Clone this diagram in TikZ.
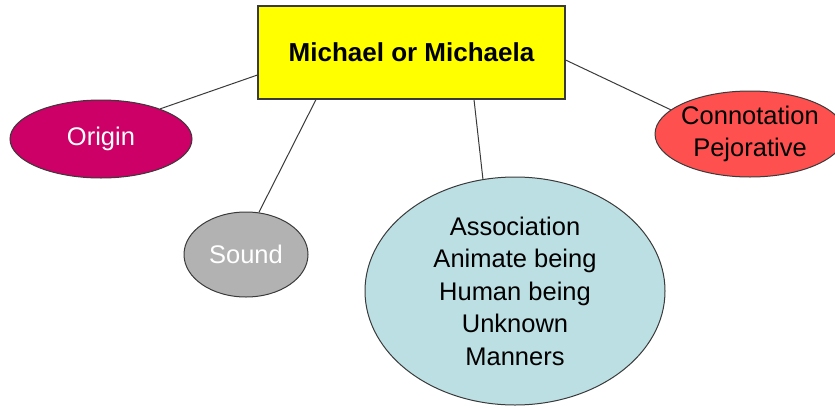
\documentclass[tikz,border=0pt]{standalone}
\usepackage{fontspec}
\setmainfont{Liberation Sans}
\usetikzlibrary{shapes.geometric}
\definecolor{boxyellow}{HTML}{FFFF00}
\definecolor{originpink}{HTML}{CC0066}
\definecolor{soundgray}{HTML}{B2B2B2}
\definecolor{assocblue}{HTML}{BBDFE3}
\definecolor{connred}{HTML}{FF5050}
\definecolor{edgegray}{HTML}{3A3A3A}
\begin{document}
\begin{tikzpicture}[x=1pt,y=-1pt,
  topic/.style={draw=edgegray, line width=1.1pt, fill=boxyellow, rectangle,
    minimum width=307pt, minimum height=93pt, inner sep=0pt,
    font=\fontsize{26}{30}\selectfont\bfseries},
  idea/.style={draw=edgegray, line width=1pt, ellipse, inner sep=-20pt,
    align=center, font=\fontsize{25.5}{32.5}\selectfont},
  link/.style={draw=edgegray, line width=1pt}]
  \useasboundingbox (0,0) rectangle (835,407);

  % central topic and the four ideas around it
  \node[topic] (box) at (411.5,52.5) {Michael or Michaela};
  \node[idea, fill=originpink, text=white, minimum width=182pt, minimum height=78pt]
    (origin) at (101,139) {Origin};
  \node[idea, fill=soundgray, text=white, minimum width=124pt, minimum height=85pt]
    (sound) at (246,254.5) {Sound};
  \node[idea, fill=assocblue, minimum width=300pt, minimum height=228pt]
    (assoc) at (515,291) {Association\\ Animate being\\Human being\\Unknown\\Manners};
  \node[idea, fill=connred, minimum width=190pt, minimum height=86pt]
    (conn) at (750,134) {Connotation\\Pejorative};

  % connectors from the topic box
  \draw[link] ([yshift=-22.5pt]box.west) -- (origin.27);
  \draw[link] ([xshift=-95.5pt]box.south) -- (sound.73);
  \draw[link] ([xshift=62.5pt]box.south) -- (assoc.106);
  \draw[link] ([yshift=-7.5pt]box.east) -- (conn.163);
\end{tikzpicture}
\end{document}
